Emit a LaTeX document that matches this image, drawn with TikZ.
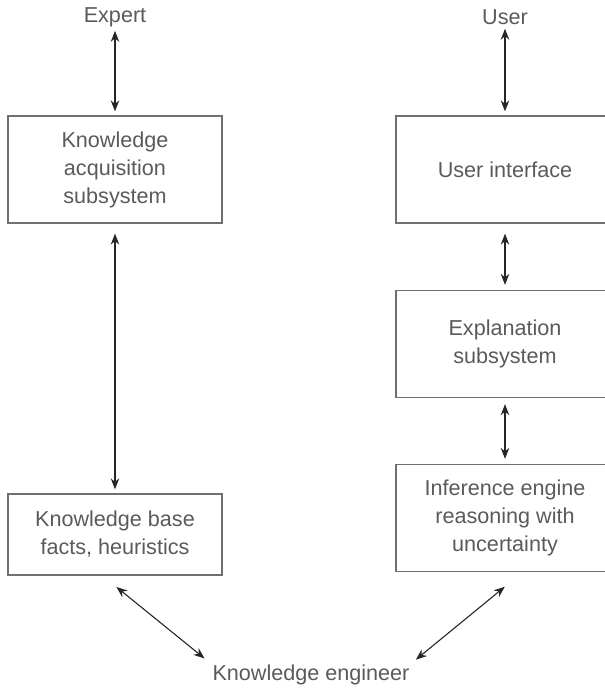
\documentclass[tikz,border=0pt]{standalone}
\usepackage{fontspec}
\setmainfont{Liberation Sans}
\usetikzlibrary{arrows.meta}
\definecolor{txtgray}{HTML}{5A5A5A}
\definecolor{boxgray}{HTML}{707070}
\tikzset{
  sysbox/.style={draw=boxgray,line width=1.3pt,minimum width=214pt,minimum height=107pt,
    align=center,text=txtgray,font=\fontsize{21.6}{28}\selectfont},
  lbl/.style={inner sep=0pt,text=txtgray,font=\fontsize{21.6}{28}\selectfont},
  link/.style={{Stealth[length=11pt,width=8.5pt]}-{Stealth[length=11pt,width=8.5pt]},
    line width=1.1pt,draw=black!85,shorten <=4pt,shorten >=4pt},
}

\begin{document}
\begin{tikzpicture}[x=1pt,y=-1pt]
  \useasboundingbox (0,0) rectangle (605,688);
  % people
  \node[lbl] (expert) at (115,17) {Expert};
  \node[lbl] (user) at (505,17) {User};
  \node[lbl] (engineer) at (311,675) {Knowledge engineer};

  % left column
  \node[sysbox] (acq) at (115,169.5) {Knowledge\\acquisition\\subsystem};
  \node[sysbox,minimum height=81pt] (kb) at (115,534.5) {Knowledge base\\facts, heuristics};

  % right column, cut off by the right margin
  \node[sysbox,minimum width=218pt] (ui) at (505,169.5) {User interface};
  \node[sysbox,minimum width=218pt] (expl) at (505,344) {Explanation\\subsystem};
  \node[sysbox,minimum width=218pt] (infer) at (505,518) {Inference engine\\reasoning with\\uncertainty};

  \draw[link] (expert) -- (acq);
  \draw[link,shorten <=10pt] (acq) -- (kb);
  \draw[link] (user) -- (ui);
  \draw[link,shorten <=10pt,shorten >=5pt] (ui) -- (expl);
  \draw[link,shorten <=6pt,shorten >=5pt] (expl) -- (infer);
  \draw[link,shorten <=18pt,shorten >=10pt] (kb.-107) -- (engineer.north west);
  \draw[link,shorten <=23pt,shorten >=8pt] (infer.-72) -- (engineer.north east);
\end{tikzpicture}
\end{document}
